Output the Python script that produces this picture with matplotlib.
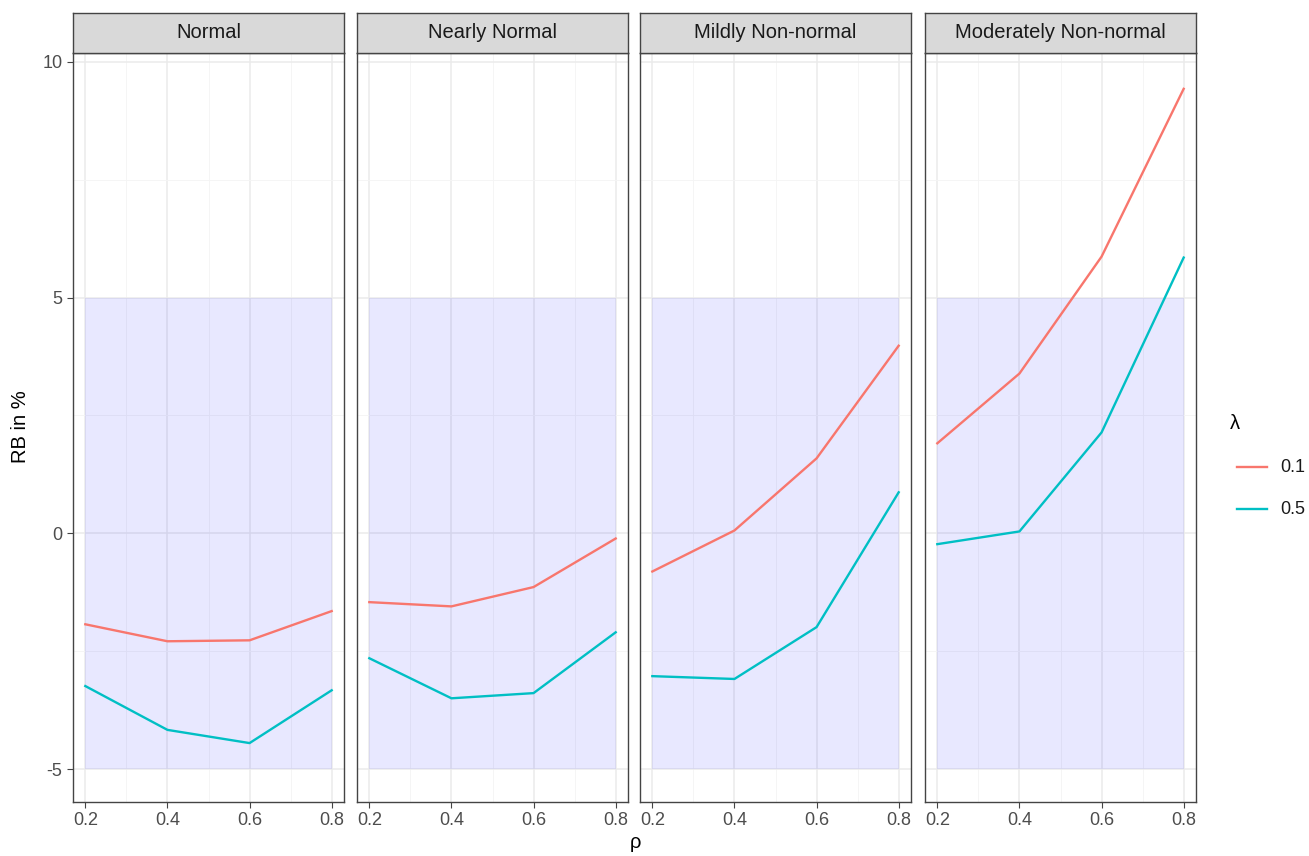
import matplotlib

matplotlib.use("Agg")
import matplotlib.pyplot as plt
from matplotlib.patches import Rectangle

plt.rcParams["font.family"] = ["Liberation Sans", "DejaVu Sans"]

# data
PANELS = ["Normal", "Nearly Normal", "Mildly Non-normal", "Moderately Non-normal"]
RHO = [0.2, 0.4, 0.6, 0.8]
RB_LAMBDA_01 = [
    [-1.93, -2.29, -2.27, -1.65],
    [-1.46, -1.55, -1.14, -0.11],
    [-0.81, 0.06, 1.59, 3.98],
    [1.91, 3.39, 5.87, 9.43],
]
RB_LAMBDA_05 = [
    [-3.24, -4.17, -4.45, -3.33],
    [-2.65, -3.50, -3.39, -2.10],
    [-3.03, -3.09, -1.99, 0.87],
    [-0.23, 0.04, 2.14, 5.85],
]
LAMBDAS = ["0.1", "0.5"]
BAND = (-5, 5)

RED = "#F8766D"
CYAN = "#00BFC4"
GRID = "#EBEBEB"
BORDER = "#444444"

W, H = 1309, 856
fig = plt.figure(figsize=(W / 100, H / 100), dpi=100, facecolor="white")

panel_left = [73, 357, 640, 925]
panel_w = 271
top, bottom = 53, 802
strip_top = 13

xlim = (0.17, 0.83)
ylim = (-5.70, 10.19)

for i, name in enumerate(PANELS):
    x0 = panel_left[i]
    ax = fig.add_axes([x0 / W, 1 - bottom / H, panel_w / W, (bottom - top) / H])
    ax.set_xlim(*xlim)
    ax.set_ylim(*ylim)
    ax.set_xticks(RHO)
    ax.set_xticks([0.3, 0.5, 0.7], minor=True)
    ax.set_yticks([-5, 0, 5, 10])
    ax.set_yticks([-2.5, 2.5, 7.5], minor=True)
    ax.grid(True, which="major", color=GRID, lw=1.1)
    ax.grid(True, which="minor", color="#F4F4F4", lw=0.6)
    ax.set_axisbelow(True)
    ax.add_patch(Rectangle((RHO[0], BAND[0]), RHO[-1] - RHO[0], BAND[1] - BAND[0],
                           facecolor="blue", alpha=0.09, lw=0, zorder=1.5))
    ax.plot(RHO, RB_LAMBDA_01[i], color=RED, lw=1.7, zorder=3)
    ax.plot(RHO, RB_LAMBDA_05[i], color=CYAN, lw=1.7, zorder=3)
    for s in ax.spines.values():
        s.set_color(BORDER)
        s.set_linewidth(1.0)
    ax.tick_params(which="minor", length=0)
    ax.tick_params(which="major", length=4, color=BORDER, labelsize=13, labelcolor="#4D4D4D")
    ax.set_xticklabels([f"{v:.1f}" for v in RHO])
    if i == 0:
        ax.set_yticklabels(["-5", "0", "5", "10"])
    else:
        ax.tick_params(axis="y", left=False, labelleft=False)

    # facet strip
    sax = fig.add_axes([x0 / W, 1 - top / H, panel_w / W, (top - strip_top) / H])
    sax.set_facecolor("#D9D9D9")
    sax.set_xticks([])
    sax.set_yticks([])
    for s in sax.spines.values():
        s.set_color(BORDER)
        s.set_linewidth(1.0)
    sax.text(0.5, 0.5, name, ha="center", va="center", fontsize=14.5, color="#1A1A1A",
             transform=sax.transAxes)

fig.text(20 / W, 1 - 427 / H, "RB in %", rotation=90, ha="center", va="center", fontsize=14.5)
fig.text(635 / W, 1 - 843 / H, "ρ", ha="center", va="center", fontsize=14.5)

# legend
fig.text(1230 / W, 1 - 424 / H, "λ", ha="left", va="center", fontsize=14.5)
for k, (lab, col) in enumerate(zip(LAMBDAS, [RED, CYAN])):
    yy = 1 - (467 + k * 42) / H
    fig.add_artist(plt.Line2D([1237 / W, 1267 / W], [yy, yy], color=col, lw=1.7))
    fig.text(1280 / W, yy, lab, ha="left", va="center", fontsize=13, color="#1A1A1A")

fig.savefig("out.png", dpi=100)
